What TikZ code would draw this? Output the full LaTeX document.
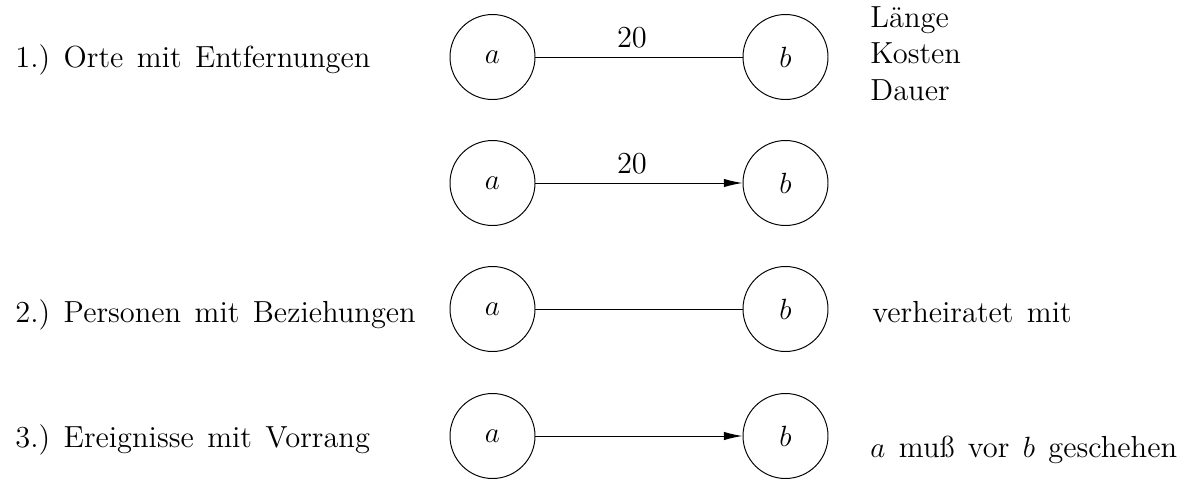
\documentclass[tikz,border=0pt]{standalone}
\usetikzlibrary{arrows.meta}
\newcommand{\lblfont}{\fontsize{12.5pt}{15pt}\selectfont\frenchspacing\spaceskip=5.5pt\relax}
\begin{document}
\begin{tikzpicture}[x=0.41pt,y=-0.41pt,
  every node/.style={font=\lblfont},
  vert/.style={draw,circle,inner sep=0pt,minimum size=34.85pt,font=\lblfont},
  lbl/.style={anchor=base west,inner sep=0pt},
  wt/.style={above,inner sep=3.6pt,pos=0.466},
  edge/.style={draw,line width=0.4pt},
  arc/.style={edge,-{Latex[length=7.6pt,width=3.4pt]}}]
\useasboundingbox (0,0) rectangle (1192,479);
% row 1
\node[lbl] (t1) at (15,67) {1.) Orte mit Entfernungen};
\node[vert] (a1) at (492.5,57) {$a$};
\node[vert] (b1) at (785.5,57) {$b$};
\draw[edge] (a1) -- node[wt] (w1) {20} (b1);
\node[lbl] (c1) at (870,27) {L\"ange};
\node[lbl] (c2) at (870,63.5) {Kosten};
\node[lbl] (c3) at (870,100) {Dauer};
% row 1b
\node[vert] (a2) at (492.5,183) {$a$};
\node[vert] (b2) at (785.5,183) {$b$};
\draw[arc] (a2) -- node[wt] (w2) {20} (b2);
% row 2
\node[lbl] (t2) at (15,322) {2.) Personen mit Beziehungen};
\node[vert] (a3) at (492.5,309) {$a$};
\node[vert] (b3) at (785.5,309) {$b$};
\draw[edge] (a3) -- (b3);
\node[lbl] (r2) at (872,322) {verheiratet mit};
% row 3
\node[lbl] (t3) at (15,447) {3.) Ereignisse mit Vorrang};
\node[vert] (a4) at (492.5,436) {$a$};
\node[vert] (b4) at (785.5,436) {$b$};
\draw[arc] (a4) -- (b4);
\node[lbl] (r3) at (870,457) {$a$ mu\ss{} vor $b$ geschehen};
\end{tikzpicture}
\end{document}
